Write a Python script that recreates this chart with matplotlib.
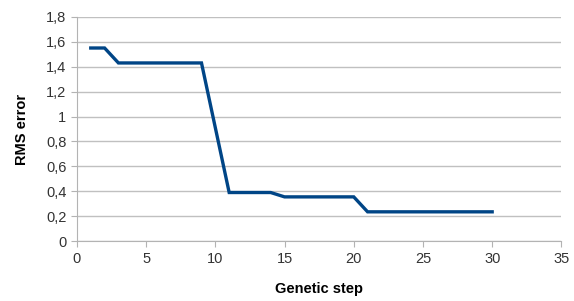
import matplotlib
matplotlib.use("Agg")
import matplotlib.pyplot as plt

steps = list(range(1, 31))
rms_error = [1.55, 1.55] + [1.43] * 7 + [0.91] + [0.39] * 4 + [0.355] * 6 + [0.235] * 10

plt.rcParams["font.family"] = ["Liberation Sans", "DejaVu Sans"]

fig = plt.figure(figsize=(5.74, 3.01), dpi=100)
ax = fig.add_axes([0.134, 0.199, 0.844, 0.745])

ax.plot(steps, rms_error, color="#004586", linewidth=2.4, solid_joinstyle="miter")

ax.set_xlim(0, 35)
ax.set_ylim(0, 1.8)
ax.set_xticks(range(0, 36, 5))
yt = [i / 5 for i in range(10)]
ax.set_yticks(yt)
ax.set_yticklabels([("%g" % v).replace(".", ",") for v in yt])

ax.grid(axis="y", color="#c0c0c0", linewidth=1)
ax.set_axisbelow(True)
for s in ["top", "right"]:
    ax.spines[s].set_visible(False)
for s in ["left", "bottom"]:
    ax.spines[s].set_color("#b3b3b3")
ax.tick_params(colors="#b3b3b3", labelcolor="#333333", labelsize=10.5, length=4)

ax.set_xlabel("Genetic step", fontsize=10.5, fontweight="bold", labelpad=12)
ax.set_ylabel("RMS error", fontsize=10.5, fontweight="bold", labelpad=12)

fig.savefig("out.png", dpi=100)
